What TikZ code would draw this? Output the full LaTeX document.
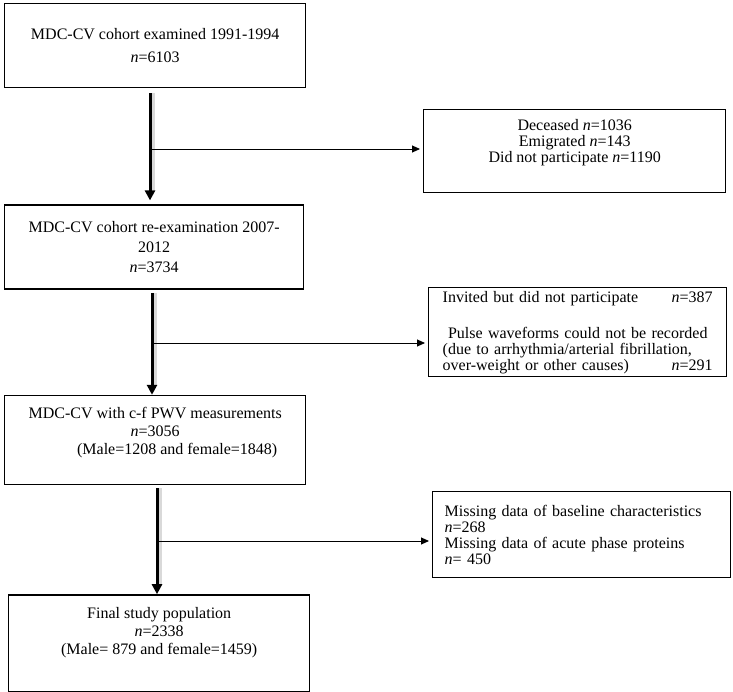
\documentclass[tikz,border=0pt]{standalone}
\usepackage{fontspec}
\setmainfont{Liberation Serif}
\usetikzlibrary{positioning,arrows.meta}

\tikzset{
	flowbox/.style={draw, line width=1.4pt, minimum width=301pt, minimum height=84pt,
		inner sep=0pt, align=center, font=\fontsize{16}{18}\selectfont},
	sidebox/.style={draw, line width=1.4pt, minimum width=298pt, inner sep=0pt,
		font=\fontsize{16}{16}\selectfont},
	mainflow/.style={line width=3pt, -{Triangle[length=10pt,width=10pt]},
		preaction={draw=black!15, line width=4pt, -, shorten >=10pt, transform canvas={xshift=3pt}}},
	sideflow/.style={line width=0.9pt, -{Triangle[length=8pt,width=7pt]}, shorten >=3pt},
}

\begin{document}
\begin{tikzpicture}[x=1pt,y=-1pt]
	\useasboundingbox (0,0) rectangle (733,691);
	
	% main column
	\node[flowbox, anchor=north west, font=\fontsize{16}{23}\selectfont] (cohort) at (4,3)
		{MDC-CV cohort examined 1991-1994\\\textit{n}=6103};
	\node[flowbox, below=116pt of cohort, xshift=-1pt, minimum width=299pt, font=\fontsize{16}{20}\selectfont] (reexam)
		{MDC-CV cohort re-examination 2007-\\2012\\\textit{n}=3734};
	\node[flowbox, below=105pt of reexam, xshift=1pt, minimum height=89pt, text depth=18pt] (pwv)
		{MDC-CV with c-f PWV measurements\\\textit{n}=3056\\\hspace*{44pt}(Male=1208 and female=1848)};
	\node[flowbox, below=109pt of pwv, xshift=4pt, minimum height=97pt, text depth=25pt] (final)
		{Final study population\\\textit{n}=2338\\(Male= 879 and female=1459)};
	
	% excluded
	\node[sidebox, anchor=north west, minimum width=302pt, minimum height=83pt, align=center,
		font=\fontsize{16}{16}\selectfont, text depth=20pt] (lost) at (423,109)
		{Deceased \textit{n}=1036\\Emigrated \textit{n}=143\\Did not participate \textit{n}=1190};
	\node[sidebox, anchor=north west, minimum height=89pt, text width=270pt, align=left] (norec) at (428,287)
		{Invited but did not participate\hfill\textit{n}=387\\[20pt]
		\ Pulse waveforms could not be recorded\\(due to arrhythmia/arterial fibrillation,\\
		over-weight or other causes)\hfill\textit{n}=291};
	\node[sidebox, anchor=north west, minimum height=86pt, text width=274pt, align=left] (missing) at (432,491)
		{Missing data of baseline characteristics\\\textit{n}=268\\Missing data of acute phase proteins\\\textit{n}= 450};
	
	\coordinate (split1) at (150,149);
	\coordinate (split2) at (152,343);
	\coordinate (split3) at (157,541);
	
	\draw[mainflow] ([yshift=-5pt]cohort.south -| split1) -- ([yshift=4pt]reexam.north -| split1);
	\draw[mainflow] ([yshift=-3pt]reexam.south -| split2) -- (pwv.north -| split2);
	\draw[mainflow] ([yshift=-3pt]pwv.south -| split3) -- (final.north -| split3);
	
	\draw[sideflow] (split1) -- (split1 -| lost.west);
	\draw[sideflow] (split2) -- (split2 -| norec.west);
	\draw[sideflow] (split3) -- (split3 -| missing.west);
\end{tikzpicture}
\end{document}
